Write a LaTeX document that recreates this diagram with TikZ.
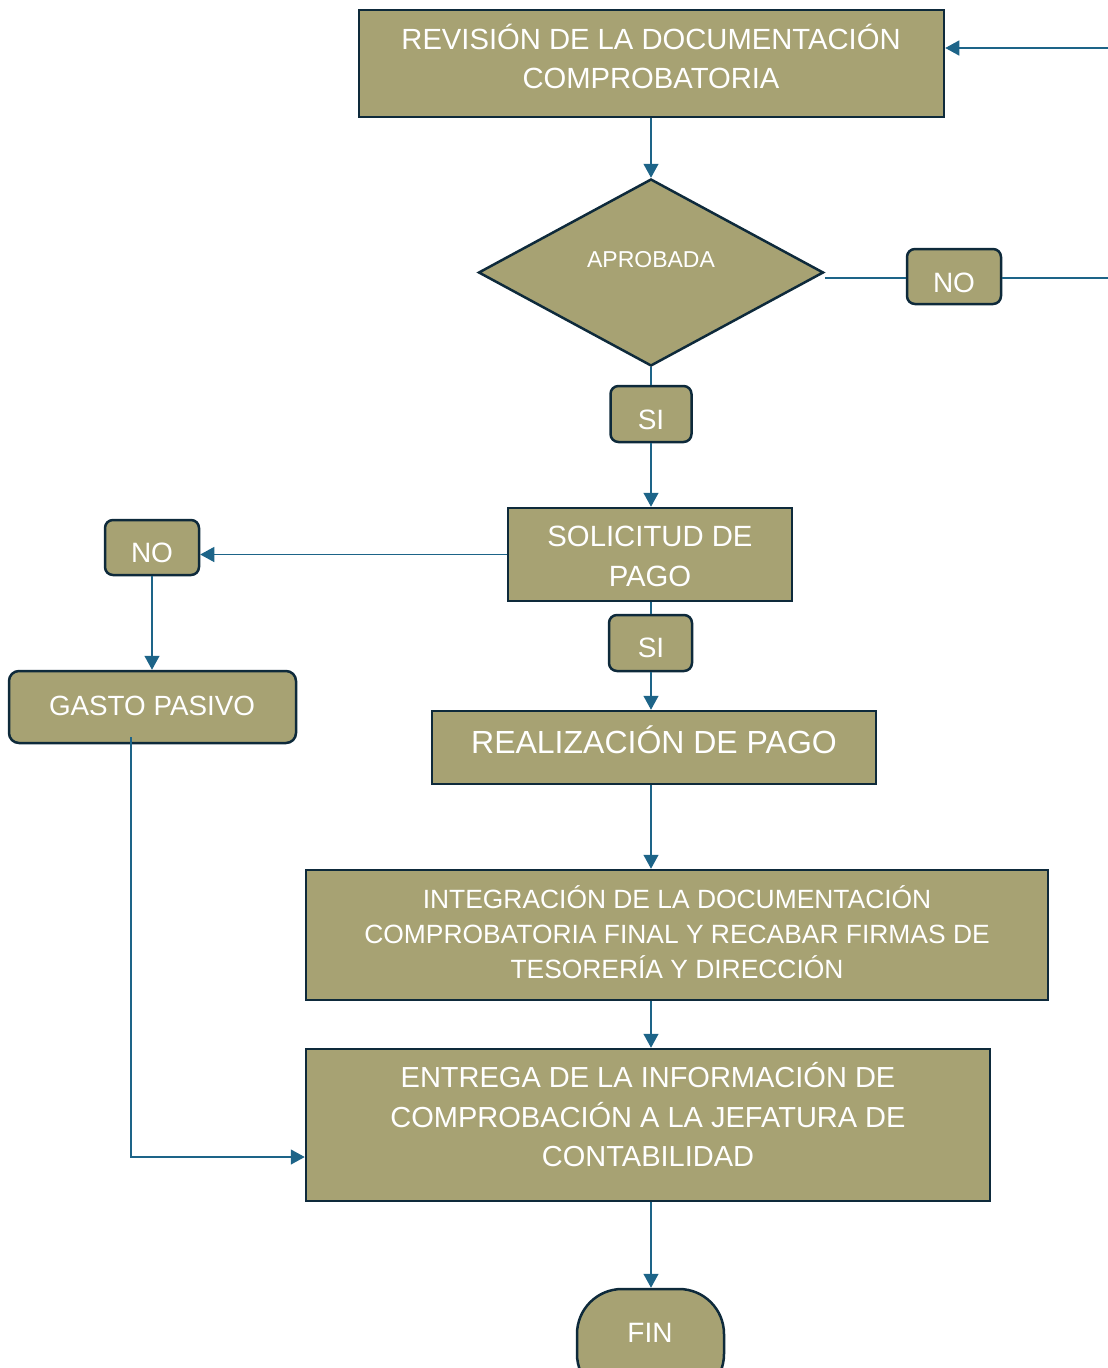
\documentclass[tikz,border=0pt]{standalone}
\usepackage{fontspec}
\setmainfont{Liberation Sans}
\usetikzlibrary{arrows.meta,shapes.geometric}
\definecolor{boxfill}{HTML}{A7A273}
\definecolor{boxline}{HTML}{0E2A3B}
\definecolor{conn}{HTML}{1D6488}
\tikzset{
  proc/.style={draw=boxline, line width=2.5pt, fill=boxfill, inner sep=0pt, rectangle},
  rbox/.style={proc, rounded corners=8pt},
  txt/.style={text=white, align=center, inner sep=0pt},
  arr/.style={draw=conn, line width=1.3pt, -{Triangle[length=14pt,width=15pt]}},
  conline/.style={draw=conn, line width=1.3pt},
}
\begin{document}
\begin{tikzpicture}[x=1pt,y=-1pt]
\clip (0,0) rectangle (1108,1368);
% shapes
\node[proc, minimum width=585pt, minimum height=107pt] (box1) at (651.5,63.5) {};
\node[diamond, draw=boxline, line width=2.5pt, fill=boxfill, inner sep=0pt, minimum width=345pt, minimum height=187pt] (dia) at (651,272.5) {};
\node[rbox, minimum width=94pt, minimum height=55pt] (no1) at (954,276.5) {};
\node[rbox, minimum width=81pt, minimum height=56pt] (si1) at (651,414) {};
\node[proc, minimum width=284pt, minimum height=93pt] (sol) at (650,554.5) {};
\node[rbox, minimum width=94pt, minimum height=55pt] (no2) at (152,547.5) {};
\node[rbox, rounded corners=10pt, minimum width=287pt, minimum height=72pt] (gasto) at (152.5,707) {};
\node[rbox, minimum width=83pt, minimum height=56pt] (si2) at (650.5,643) {};
\node[proc, minimum width=444pt, minimum height=73pt] (real) at (654,747.5) {};
\node[proc, minimum width=742pt, minimum height=130pt] (integ) at (677,935) {};
\node[proc, minimum width=684pt, minimum height=152pt] (ent) at (648,1125) {};
\node[proc, rounded corners=45pt, minimum width=147pt, minimum height=110pt] (fin) at (650.5,1344) {};
% texts
\node[txt, font=\fontsize{29.2}{39}\selectfont] (box1t) at (651,56) {REVISIÓN DE LA DOCUMENTACIÓN\\COMPROBATORIA};
\node[txt, font=\fontsize{23}{28}\selectfont] (diat) at (651,260) {APROBADA};
\node[txt, font=\fontsize{28}{34}\selectfont] (no1t) at (954,283) {NO};
\node[txt, font=\fontsize{28}{34}\selectfont] (si1t) at (651,420) {SI};
\node[txt, font=\fontsize{29.3}{40}\selectfont] (solt) at (650,556) {SOLICITUD DE\\PAGO};
\node[txt, font=\fontsize{28}{34}\selectfont] (no2t) at (152,553) {NO};
\node[txt, font=\fontsize{27.8}{34}\selectfont] (gastot) at (152,706) {GASTO PASIVO};
\node[txt, font=\fontsize{28}{34}\selectfont] (si2t) at (651,648) {SI};
\node[txt, font=\fontsize{32}{38}\selectfont] (realt) at (654,740) {REALIZACIÓN DE PAGO};
\node[txt, font=\fontsize{26.4}{35}\selectfont] (integt) at (677,932) {INTEGRACIÓN DE LA DOCUMENTACIÓN\\COMPROBATORIA FINAL Y RECABAR FIRMAS DE\\TESORERÍA Y DIRECCIÓN};
\node[txt, font=\fontsize{29}{39.5}\selectfont] (entt) at (648,1115) {ENTREGA DE LA INFORMACIÓN DE\\COMPROBACIÓN A LA JEFATURA DE\\CONTABILIDAD};
\node[txt, font=\fontsize{28}{34}\selectfont] (fint) at (650,1333) {FIN};
% connectors
\coordinate (ext1) at (1108,48);
\coordinate (ext2) at (1108,278);
\coordinate (spine) at (651,0);
\coordinate (gout) at (131,737);
\draw[arr] (ext1) -- (ext1 -| box1.east);
\draw[arr] (spine |- box1.south) -- (dia.north);
\draw[conline] (dia.east |- ext2) -- (no1.west |- ext2);
\draw[conline] (no1.east |- ext2) -- (ext2);
\draw[conline] (dia.south) -- (si1.north);
\draw[arr] (si1.south) -- (spine |- sol.north);
\draw[arr] (sol.west) -- (sol.west -| no2.east);
\draw[arr] (no2.south) -- (no2.south |- gasto.north);
\draw[arr] (gout) |- ([yshift=-32pt]ent.west);
\draw[conline] (spine |- sol.south) -- (spine |- si2.north);
\draw[arr] (spine |- si2.south) -- (spine |- real.north);
\draw[arr] (spine |- real.south) -- (spine |- integ.north);
\draw[arr] (spine |- integ.south) -- (spine |- ent.north);
\draw[arr] (spine |- ent.south) -- (spine |- fin.north);
\end{tikzpicture}
\end{document}
